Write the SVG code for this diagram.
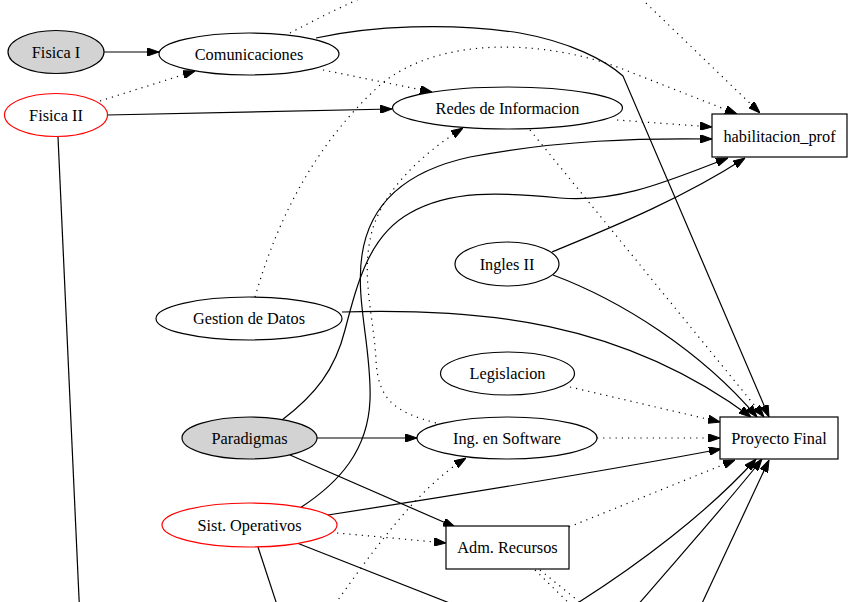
<svg xmlns="http://www.w3.org/2000/svg" width="855" height="602" viewBox="0 0 855 602">
<style>
.n ellipse,.n rect{fill:#fff;stroke:#000;stroke-width:1.2}
.n.g ellipse{fill:#d3d3d3}
.n.r ellipse{stroke:#ff0000}
.n text{font-family:"Liberation Serif","Times New Roman",serif;font-size:16.3px;text-anchor:middle;fill:#000}
#edges path{fill:none;stroke:#000;stroke-width:1.2;marker-end:url(#arr)}
#edges path.d{stroke-dasharray:1.2,5}
#edges path.o{marker-end:none}
</style>
<defs>
<marker id="arr" viewBox="0 0 12 8.4" refX="12" refY="4.2" markerWidth="12" markerHeight="8.4" markerUnits="userSpaceOnUse" orient="auto">
<path d="M0,0 L12,4.2 L0,8.4 z" fill="#000" stroke="#000" stroke-width="1" stroke-dasharray="none"/>
</marker>
</defs>
<rect x="0" y="0" width="855" height="602" fill="#fff"/>
<g id="edges">
<path d="M104,52 L159,52"/>
<path class="d" d="M100,101 L195,71"/>
<path d="M107,115 L392,109"/>
<path class="d" d="M323,70 L432,92"/>
<path class="d" d="M290,33 C400,-25 520,-75 620,-22 L760,113"/>
<path class="d" d="M255,297 C280,210 320,140 380,85 C440,35 545,40 620,68 L737,114"/>
<path class="d" d="M617,120 L712,127"/>
<path class="d" d="M530,130 L764,417"/>
<path d="M316,38 C370,26 450,22 520,33 C570,42 605,60 623,76 L769,417"/>
<path class="d" d="M436,423 C395,412 378,400 376,360 C374,320 362,280 370,240 C378,195 420,155 463,128"/>
<path d="M300,508 C340,482 368,450 370,400 C372,350 355,300 362,255 C370,200 410,170 470,157 C560,140 640,138 712,139"/>
<path d="M282,420 C315,395 335,370 345,330 C358,280 370,235 410,213 C450,190 500,192 560,198 C620,203 670,180 728,158"/>
<path d="M552,252 C610,228 680,200 745,158"/>
<path d="M553,275 C620,300 700,350 757,417"/>
<path d="M342,312 C480,308 620,320 751,417"/>
<path class="d" d="M570,387 L720,422"/>
<path class="d" d="M597,438 L720,438"/>
<path d="M328,515 C450,496 600,472 721,449"/>
<path d="M317,438 L417,438"/>
<path d="M290,455 L455,527"/>
<path class="d" d="M337,533 L446,543"/>
<path class="o" d="M258,547 L280,614"/>
<path class="o" d="M297,543 L475,613"/>
<path class="o" d="M58,137 L80,620"/>
<path class="d" d="M569,527 L735,460"/>
<path class="d o" d="M535,570 L580,614"/>
<path class="d o" d="M540,570 L592,612"/>
<path class="d" d="M328,614 C370,555 415,490 466,458"/>
<path d="M560,614 C640,565 710,510 756,459"/>
<path d="M630,614 C685,550 730,500 762,459"/>
<path d="M697,614 L769,460"/>
</g>
<g id="fisica1" class="n g"><ellipse cx="56" cy="52" rx="48" ry="21.5"/><text x="56" y="57.5">Fisica I</text></g>
<g id="comunicaciones" class="n"><ellipse cx="249" cy="54" rx="90" ry="21"/><text x="249" y="59.5">Comunicaciones</text></g>
<g id="fisica2" class="n r"><ellipse cx="56" cy="115" rx="51.5" ry="21.5"/><text x="56" y="120.5">Fisica II</text></g>
<g id="redes" class="n"><ellipse cx="507.5" cy="108" rx="115" ry="21"/><text x="507.5" y="113.5">Redes de Informacion</text></g>
<g id="habilitacion" class="n"><rect x="712" y="114" width="135" height="43"/><text x="779.5" y="141.5">habilitacion_prof</text></g>
<g id="ingles2" class="n"><ellipse cx="507" cy="264" rx="52" ry="22"/><text x="507" y="269.5">Ingles II</text></g>
<g id="gestion" class="n"><ellipse cx="249" cy="318.5" rx="93" ry="21.5"/><text x="249" y="324">Gestion de Datos</text></g>
<g id="legislacion" class="n"><ellipse cx="507.5" cy="373.5" rx="67" ry="21.5"/><text x="507.5" y="379">Legislacion</text></g>
<g id="proyecto" class="n"><rect x="720" y="417" width="118" height="42"/><text x="779" y="443.5">Proyecto Final</text></g>
<g id="paradigmas" class="n g"><ellipse cx="249.5" cy="438" rx="67.5" ry="21"/><text x="249.5" y="443.5">Paradigmas</text></g>
<g id="ingsoftware" class="n"><ellipse cx="507" cy="438" rx="90" ry="21"/><text x="507" y="443.5">Ing. en Software</text></g>
<g id="sistop" class="n r"><ellipse cx="249.5" cy="525" rx="87.5" ry="22"/><text x="249.5" y="530.5">Sist. Operativos</text></g>
<g id="admrecursos" class="n"><rect x="446" y="526" width="123" height="43"/><text x="507.5" y="553">Adm. Recursos</text></g>
</svg>
